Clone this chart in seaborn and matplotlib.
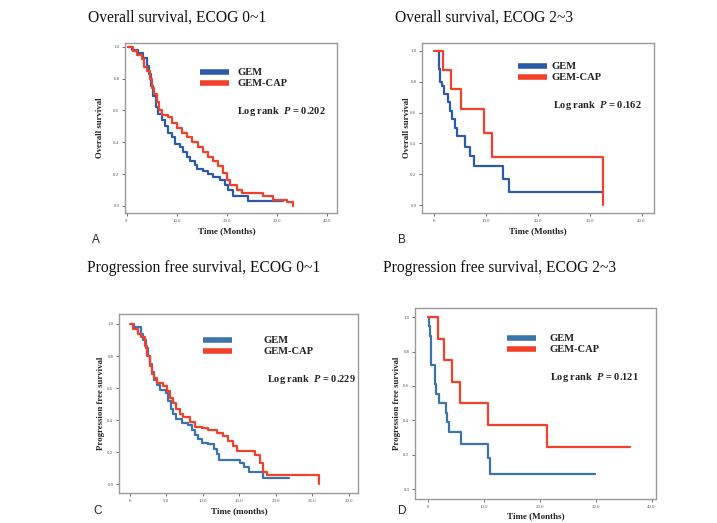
import matplotlib
matplotlib.use("Agg")
import matplotlib.pyplot as plt
import seaborn as sns
import pandas as pd

sns.set_theme(style="white")
plt.rcParams['font.family'] = ['Liberation Serif', 'DejaVu Serif']
plt.rcParams['mathtext.fontset'] = 'custom'
plt.rcParams['mathtext.it'] = 'Liberation Serif:bold:italic'
plt.rcParams['mathtext.rm'] = 'Liberation Serif:bold'

W, H = 717, 523

# ---------------- data ----------------
# Panel A: Overall survival, ECOG 0~1
a_gem_t = [0.3, 1.0, 2.3, 3.3, 4.0, 4.5, 4.9, 5.3, 5.9, 6.3, 7.0, 7.7, 8.3, 9.0, 9.7,
           10.7, 11.3, 12.0, 12.7, 13.7, 14.0, 15.3, 16.3, 17.3, 18.7, 19.7, 20.3,
           21.3, 24.3, 31.3]
a_gem_s = [1.0, 0.98, 0.96, 0.93, 0.88, 0.83, 0.75, 0.69, 0.62, 0.58, 0.54, 0.50, 0.46,
           0.43, 0.39, 0.37, 0.34, 0.31, 0.28, 0.26, 0.23, 0.22, 0.20, 0.18, 0.165,
           0.13, 0.10, 0.065, 0.03, 0.03]
a_cap_t = [0.3, 1.3, 2.0, 3.0, 3.5, 4.0, 4.7, 5.0, 5.5, 6.0, 6.5, 7.0, 8.3, 9.0, 10.0,
           11.0, 12.0, 13.0, 14.3, 15.3, 16.3, 17.3, 18.3, 19.3, 20.0, 20.7, 22.0,
           23.0, 27.3, 29.2, 32.0, 33.3]
a_cap_s = [1.0, 0.97, 0.95, 0.92, 0.87, 0.85, 0.80, 0.74, 0.70, 0.65, 0.60, 0.57, 0.56,
           0.52, 0.49, 0.46, 0.43, 0.40, 0.37, 0.34, 0.31, 0.28, 0.25, 0.21, 0.16,
           0.13, 0.10, 0.08, 0.06, 0.04, 0.025, 0.0]

# Panel B: Overall survival, ECOG 2~3
b_gem_t = [0.8, 1.0, 1.2, 1.5, 1.9, 2.7, 3.0, 3.5, 4.0, 4.4, 5.9, 7.0, 7.8, 13.4, 14.5, 32.5]
b_gem_s = [1.0, 0.88, 0.80, 0.77, 0.72, 0.67, 0.61, 0.555, 0.50, 0.445, 0.38, 0.32,
           0.255, 0.17, 0.085, 0.085]
b_cap_t = [0.0, 1.7, 3.3, 5.3, 9.6, 11.2, 32.5, 32.5]
b_cap_s = [1.0, 0.875, 0.75, 0.625, 0.47, 0.3125, 0.3125, 0.0]

# Panel C: Progression free survival, ECOG 0~1
c_gem_t = [0.2, 0.6, 1.5, 1.8, 2.2, 2.5, 2.75, 3.0, 3.3, 3.8, 4.2, 5.0, 5.3, 5.6, 6.0,
           6.4, 7.1, 8.0, 8.5, 8.9, 9.4, 9.9, 10.8, 11.5, 11.9, 12.3, 15.1, 15.7,
           16.3, 18.3, 21.8]
c_gem_s = [1.0, 0.98, 0.94, 0.90, 0.85, 0.80, 0.75, 0.70, 0.65, 0.62, 0.59, 0.57, 0.52,
           0.47, 0.44, 0.41, 0.38, 0.37, 0.34, 0.31, 0.28, 0.26, 0.25, 0.22, 0.19,
           0.15, 0.13, 0.11, 0.08, 0.04, 0.04]
c_cap_t = [0.0, 0.5, 1.2, 1.6, 2.1, 2.4, 2.75, 3.0, 3.3, 3.8, 4.6, 5.1, 5.5, 6.0, 6.4,
           6.9, 7.3, 8.3, 8.9, 9.9, 10.8, 11.9, 12.8, 13.5, 14.2, 14.7, 17.2, 17.9,
           18.3, 18.8, 25.9, 25.9]
c_cap_s = [1.0, 0.97, 0.94, 0.92, 0.86, 0.80, 0.74, 0.69, 0.66, 0.63, 0.61, 0.58, 0.54,
           0.51, 0.47, 0.44, 0.42, 0.39, 0.36, 0.35, 0.34, 0.32, 0.30, 0.27, 0.24,
           0.21, 0.18, 0.13, 0.08, 0.06, 0.06, 0.0]

# Panel D: Progression free survival, ECOG 2~3
d_gem_t = [0.0, 0.12, 0.37, 0.5, 1.2, 1.5, 2.0, 3.2, 3.5, 3.8, 6.0, 10.7, 11.2, 29.9]
d_gem_s = [1.0, 0.95, 0.89, 0.72, 0.61, 0.555, 0.50, 0.445, 0.39, 0.33, 0.265, 0.18,
           0.085, 0.085]
d_cap_t = [0.0, 1.85, 2.9, 4.3, 5.7, 10.7, 21.3, 36.1]
d_cap_s = [1.0, 0.875, 0.75, 0.625, 0.50, 0.375, 0.245, 0.245]

groups = ["GEM", "GEM-CAP"]
titles = ["Overall survival, ECOG 0~1", "Overall survival, ECOG 2~3",
          "Progression free survival, ECOG 0~1", "Progression free survival, ECOG 2~3"]
ylabels = ["Overall survival", "Overall survival",
           "Progression free survival", "Progression free survival"]
xlabels = ["Time (Months)", "Time (Months)", "Time (months)", "Time (Months)"]
pvalues = ["0.202", "0.162", "0.229", "0.121"]
letters = ["A", "B", "C", "D"]
xticks_list = [[0, 10, 20, 30, 40], [0, 10, 20, 30, 40],
               [0, 5, 10, 15, 20, 25, 30], [0, 10, 20, 30, 40]]
xtick_labels = [["0", "10.0", "20.0", "30.0", "40.0"], ["0", "10.0", "20.0", "30.0", "40.0"],
                ["0", "5.0", "10.0", "15.0", "20.0", "25.0", "30.0"],
                ["0", "10.0", "20.0", "30.0", "40.0"]]
yticks = [0.0, 0.2, 0.4, 0.6, 0.8, 1.0]
ytick_labels = ["0.0", "0.2", "0.4", "0.6", "0.8", "1.0"]

curves = [
    (a_gem_t, a_gem_s, a_cap_t, a_cap_s),
    (b_gem_t, b_gem_s, b_cap_t, b_cap_s),
    (c_gem_t, c_gem_s, c_cap_t, c_cap_s),
    (d_gem_t, d_gem_s, d_cap_t, d_cap_s),
]

# ---------------- layout (pixels) ----------------
boxes = [(125, 43, 337, 213), (422, 43, 654, 213), (119, 314, 358, 493), (415, 308, 656, 499)]
xlims = [(-0.3, 42.0), (-2.3, 42.4), (-1.47, 31.3), (-2.3, 40.8)]
ylims = [(-0.044, 1.023), (-0.05, 1.05), (-0.054, 1.062), (-0.058, 1.054)]
title_pos = [(88, 18), (395, 18), (87, 268), (383, 268)]
ylab_pos = [(100, 128), (407, 128), (101, 403), (397, 403)]
xlab_pos = [(227, 231), (538, 231), (239, 511), (536, 516)]
letter_pos = [(92, 240), (398, 240), (93, 511), (398, 511)]
legend_pos = [(200, 68), (518, 62), (203, 336), (507, 334)]
handle_pad = [0.85, 0.5, 3.0, 1.3]
logrank_pos = [(237, 111), (553, 106), (267, 380), (550, 378)]
blues = ["#2c5aa6", "#2c5aa6", "#3a74ab", "#3a74ab"]
red = "#f2402a"

fig = plt.figure(figsize=(W / 100, H / 100), dpi=100)
fig.patch.set_facecolor("white")

def fx(x):
    return x / W

def fy(y):
    return 1 - y / H

for i in range(4):
    l, t, r, b = boxes[i]
    ax = fig.add_axes([fx(l), fy(b), (r - l) / W, (b - t) / H])
    gt, gs, ct, cs = curves[i]
    df = pd.concat([
        pd.DataFrame({"time": gt, "surv": gs, "group": groups[0]}),
        pd.DataFrame({"time": ct, "surv": cs, "group": groups[1]}),
    ], ignore_index=True)
    sns.lineplot(data=df, x="time", y="surv", hue="group", hue_order=groups,
                 palette=[blues[i], red], estimator=None, sort=False,
                 drawstyle="steps-post", linewidth=1.6, ax=ax, legend=True)
    ax.set_xlim(*xlims[i])
    ax.set_ylim(*ylims[i])
    ax.set_xticks(xticks_list[i])
    ax.set_xticklabels(xtick_labels[i])
    ax.set_yticks(yticks)
    ax.set_yticklabels(ytick_labels)
    ax.tick_params(axis="both", which="both", labelsize=3.5, labelcolor="#555555",
                   length=2.5, width=0.6, color="#555555", direction="out", pad=1.5,
                   bottom=True, left=True)
    for sp in ax.spines.values():
        sp.set_color("#9a9a9a")
        sp.set_linewidth(1.0)
    ax.set_xlabel("")
    ax.set_ylabel("")
    ax.grid(False)

    leg = ax.legend(loc="upper left", bbox_to_anchor=(fx(legend_pos[i][0]), fy(legend_pos[i][1])),
                    bbox_transform=fig.transFigure, frameon=False, borderpad=0,
                    borderaxespad=0, handlelength=2.7, handletextpad=handle_pad[i],
                    labelspacing=0.15, prop={"family": "Liberation Serif", "weight": "bold", "size": 7.6})
    for ln in leg.get_lines():
        ln.set_linewidth(4.0)
        ln.set_solid_capstyle("butt")
    for tx in leg.get_texts():
        tx.set_color("#222222")

    fig.text(fx(logrank_pos[i][0]), fy(logrank_pos[i][1]), "Log rank  $P$ = " + pvalues[i],
             fontsize=7.5, fontweight="bold", color="#222222", va="center", ha="left")
    fig.text(fx(title_pos[i][0]), fy(title_pos[i][1]), titles[i], fontsize=11.2,
             color="#111111", va="center", ha="left")
    fig.text(fx(ylab_pos[i][0]), fy(ylab_pos[i][1]), ylabels[i], fontsize=6.3,
             fontweight="bold", rotation=90, va="center", ha="center", color="#222222")
    fig.text(fx(xlab_pos[i][0]), fy(xlab_pos[i][1]), xlabels[i], fontsize=6.5,
             fontweight="bold", va="center", ha="center", color="#222222")
    fig.text(fx(letter_pos[i][0]), fy(letter_pos[i][1]), letters[i], fontsize=8.5,
             family="Liberation Sans", va="center", ha="left", color="#222222")

fig.savefig("out.png", dpi=100, facecolor="white")
